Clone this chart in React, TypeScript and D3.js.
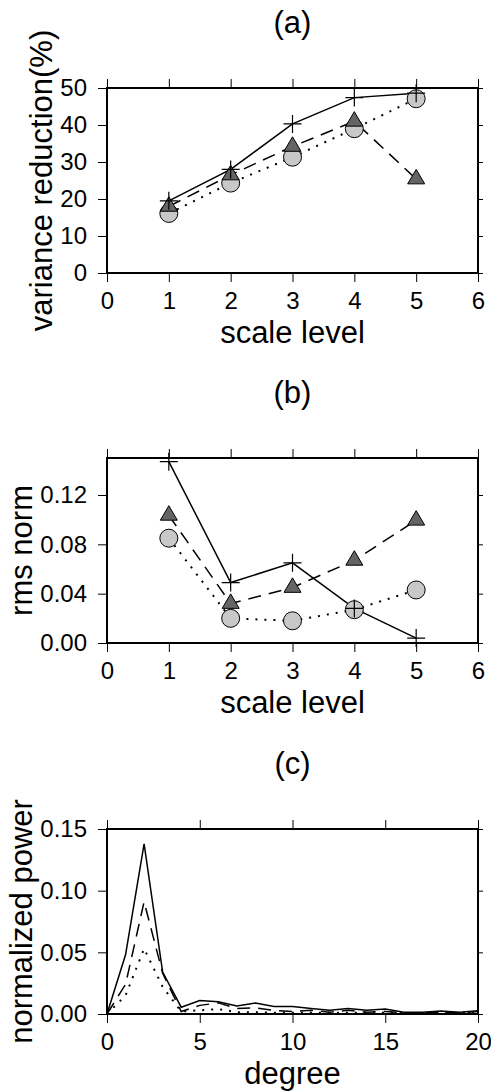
import React, { useEffect, useRef } from 'react';
import * as d3 from 'd3';

// panel (a) / (b): scale levels
const scaleLevels = [1, 2, 3, 4, 5];
const varRedPlus = [19.5, 28, 40.3, 47.4, 48.6];
const varRedTriangle = [18, 26.5, 34.2, 41, 25.4];
const varRedCircle = [16.1, 24.3, 31.3, 39, 47.1];

const rmsPlus = [0.147, 0.049, 0.065, 0.028, 0.004];
const rmsTriangle = [0.1035, 0.032, 0.045, 0.067, 0.0995];
const rmsCircle = [0.085, 0.02, 0.018, 0.027, 0.043];

// panel (c): spectral degrees
const degrees = [0, 1, 2, 3, 4, 5, 6, 7, 8, 9, 10, 11, 12, 13, 14, 15, 16, 17, 18, 19, 20];
const powerSolid = [0, 0.048, 0.138, 0.034, 0.0055, 0.011, 0.01, 0.0065, 0.009, 0.006, 0.006, 0.0045, 0.003, 0.0045, 0.003, 0.004, 0.0015, 0.0015, 0.0025, 0.0015, 0.0027];
const powerDashed = [0, 0.024, 0.091, 0.033, 0.002, 0.007, 0.009, 0.0045, 0.005, 0.003, 0.002, 0.003, 0.0015, 0.003, 0.0015, 0.002, 0.001, 0.001, 0.0015, 0.001, 0.002];
const powerDotted = [0, 0.015, 0.053, 0.022, 0.002, 0.003, 0.004, 0.0015, 0.0015, 0.001, 0.001, 0.001, 0.001, 0.001, 0.001, 0.001, 0.0008, 0.0008, 0.001, 0.0008, 0.001];

// axis ticks
const levelTicks = [0, 1, 2, 3, 4, 5, 6];
const degreeTicks = [0, 5, 10, 15, 20];
const varRedTicks = [0, 10, 20, 30, 40, 50];
const rmsTicks = [0, 0.04, 0.08, 0.12];
const powerTicks = [0, 0.05, 0.1, 0.15];

const FONT = '"Liberation Sans", Arial, Helvetica, sans-serif';

function App() {
    const ref = useRef<SVGSVGElement>(null);

    useEffect(() => {
        const svg = d3.select(ref.current);
        svg.selectAll("*").remove();

        const left = 107, plotW = 371, plotH = 185;
        const intFmt = d3.format("d");

        const panels = [
            {
                top: 88, title: "(a)", ylabel: "variance reduction(%)", xlabel: "scale level",
                xDomain: [0, 6], xTicks: levelTicks, yDomain: [0, 50], yTicks: varRedTicks, fmt: intFmt,
                x: scaleLevels, solid: varRedPlus, dashed: varRedTriangle, dotted: varRedCircle, markers: true,
            },
            {
                top: 458, title: "(b)", ylabel: "rms norm", xlabel: "scale level",
                xDomain: [0, 6], xTicks: levelTicks, yDomain: [0, 0.15], yTicks: rmsTicks, fmt: d3.format(".2f"),
                x: scaleLevels, solid: rmsPlus, dashed: rmsTriangle, dotted: rmsCircle, markers: true,
            },
            {
                top: 829, title: "(c)", ylabel: "normalized power", xlabel: "degree",
                xDomain: [0, 20], xTicks: degreeTicks, yDomain: [0, 0.15], yTicks: powerTicks, fmt: d3.format(".2f"),
                x: degrees, solid: powerSolid, dashed: powerDashed, dotted: powerDotted, markers: false,
            },
        ];

        panels.forEach(p => {
            const x = d3.scaleLinear().domain(p.xDomain).range([0, plotW]);
            const y = d3.scaleLinear().domain(p.yDomain).range([plotH, 0]);

            const g = svg.append("g")
                .attr("transform", `translate(${left},${p.top})`)
                .attr("font-family", FONT);

            // axes
            const styleAxis = (ax) => {
                ax.select(".domain").remove();
                ax.selectAll(".tick line").attr("stroke", "#000").attr("stroke-width", 1);
                ax.selectAll(".tick text").attr("font-size", 24).attr("font-family", FONT).attr("fill", "#000");
            };

            g.append("g")
                .attr("transform", `translate(0,${plotH})`)
                .call(d3.axisBottom(x).tickValues(p.xTicks).tickSize(9).tickPadding(10).tickFormat(intFmt).tickSizeOuter(0))
                .call(styleAxis);
            g.append("g")
                .call(d3.axisTop(x).tickValues(p.xTicks).tickSize(9).tickFormat(() => "").tickSizeOuter(0))
                .call(styleAxis);
            const yAx = g.append("g")
                .call(d3.axisLeft(y).tickValues(p.yTicks).tickSize(9).tickPadding(11).tickFormat(p.fmt).tickSizeOuter(0))
                .call(styleAxis);
            g.append("g")
                .attr("transform", `translate(${plotW},0)`)
                .call(d3.axisRight(y).tickValues(p.yTicks).tickSize(5).tickFormat(() => "").tickSizeOuter(0))
                .call(styleAxis);

            // frame
            g.append("rect")
                .attr("width", plotW).attr("height", plotH)
                .attr("fill", "none").attr("stroke", "#000").attr("stroke-width", 2);

            // series lines
            const pts = vals => vals.map((v, i) => [x(p.x[i]), y(v)] as [number, number]);
            const line = d3.line();
            const series = [
                { vals: p.solid, dash: null },
                { vals: p.dashed, dash: "13,8" },
                { vals: p.dotted, dash: "2,7" },
            ];
            series.forEach(s => {
                g.append("path")
                    .attr("d", line(pts(s.vals)))
                    .attr("fill", "none")
                    .attr("stroke", "#000")
                    .attr("stroke-width", s.dash === "2,7" ? 2 : 1.5)
                    .attr("stroke-dasharray", s.dash);
            });

            if (p.markers) {
                g.selectAll(".circ").data(pts(p.dotted)).enter().append("circle")
                    .attr("cx", d => d[0]).attr("cy", d => d[1]).attr("r", 9)
                    .attr("fill", "#c8c8c8").attr("stroke", "#000").attr("stroke-width", 1);
                const s = 17, h = 14.5;
                g.selectAll(".tri").data(pts(p.dashed)).enter().append("path")
                    .attr("d", d => `M${d[0]},${d[1] - (2 * h) / 3}L${d[0] + s / 2},${d[1] + h / 3}L${d[0] - s / 2},${d[1] + h / 3}Z`)
                    .attr("fill", "#646464").attr("stroke", "#000").attr("stroke-width", 1);
                g.selectAll(".plus").data(pts(p.solid)).enter().append("path")
                    .attr("d", d => `M${d[0] - 9},${d[1]}H${d[0] + 9}M${d[0]},${d[1] - 9}V${d[1] + 9}`)
                    .attr("stroke", "#000").attr("stroke-width", 1.2).attr("fill", "none");
            }

            // titles and labels
            g.append("text")
                .attr("x", plotW / 2).attr("y", -55)
                .attr("text-anchor", "middle").attr("font-size", 31)
                .text(p.title);
            g.append("text")
                .attr("x", plotW / 2).attr("y", plotH + 70)
                .attr("text-anchor", "middle").attr("font-size", 31)
                .text(p.xlabel);

            let maxW = 0;
            yAx.selectAll(".tick text").each(function () {
                maxW = Math.max(maxW, (this as SVGTextElement).getBBox().width);
            });
            const lx = -20 - maxW - 8;
            g.append("text")
                .attr("transform", `translate(${lx},${plotH / 2}) rotate(-90)`)
                .attr("text-anchor", "middle").attr("font-size", 31)
                .text(p.ylabel);
        });
    }, []);

    return (
        <svg ref={ref} width={491} height={1092}
            style={{ position: "absolute", left: 0, top: 0, background: "#fff" }} />
    );
}

export default App;
